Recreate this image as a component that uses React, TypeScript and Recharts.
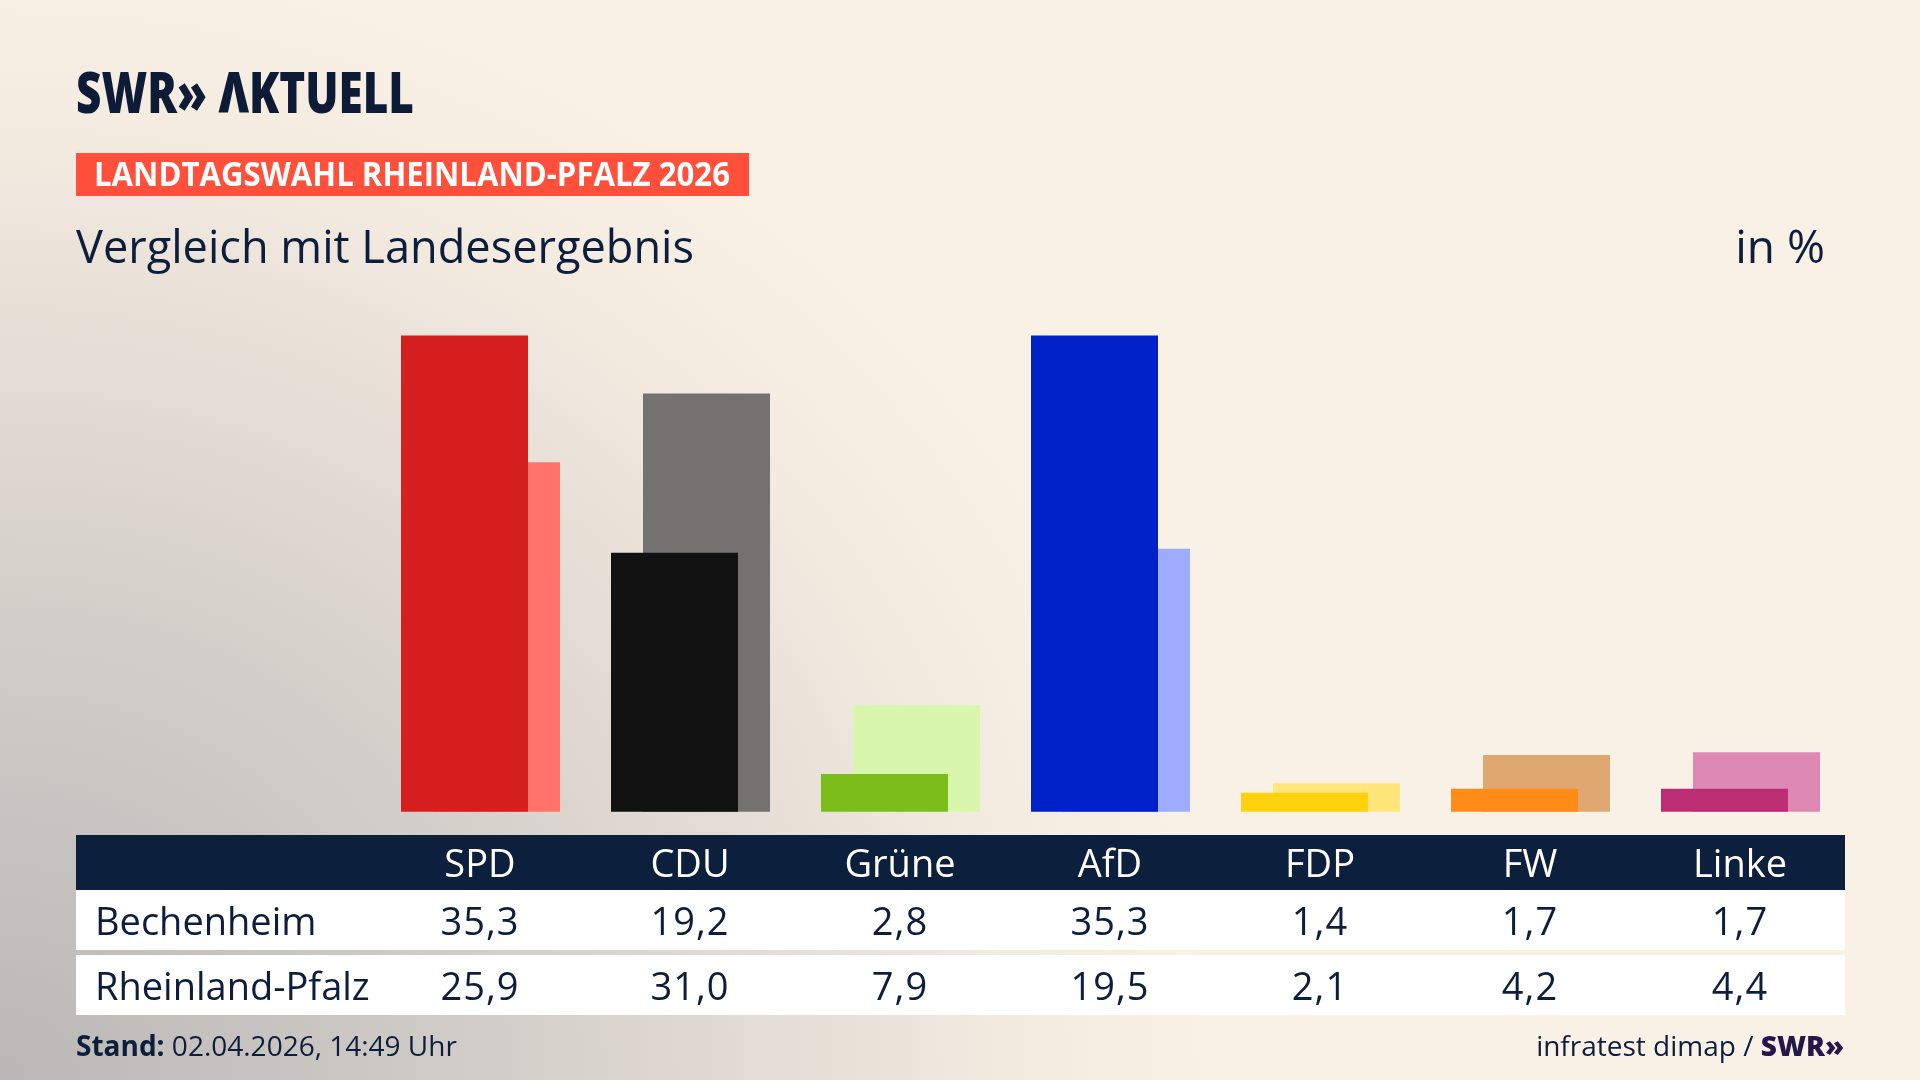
import React from "react";
import { BarChart, Bar, XAxis, YAxis, Cell } from "recharts";

const parties = ["SPD", "CDU", "Grüne", "AfD", "FDP", "FW", "Linke"];
const bechenheim = [35.3, 19.2, 2.8, 35.3, 1.4, 1.7, 1.7];
const rheinlandPfalz = [25.9, 31.0, 7.9, 19.5, 2.1, 4.2, 4.4];
const darkColors = ["#d61f1f", "#121212", "#7bbd1b", "#0021c8", "#ffd10f", "#ff8c17", "#bc2e74"];
const lightColors = ["#ff736b", "#737270", "#d8f7ad", "#9dacff", "#ffe57a", "#dfa871", "#de88b4"];
const rowLabels = ["Bechenheim", "Rheinland-Pfalz"];

const fmt = (v: number) => v.toFixed(1).replace(".", ",");

const data = parties.map((p, i) => ({
  party: p,
  local: bechenheim[i],
  state: rheinlandPfalz[i],
}));

const NAVY = "#0c1f3d";
const FONT = "'Open Sans', 'Noto Sans', sans-serif";

export default function App() {
  return (
    <div
      style={{
        position: "fixed",
        left: 0,
        top: 0,
        width: 1920,
        height: 1080,
        overflow: "hidden",
        fontFamily: FONT,
        background:
          "radial-gradient(ellipse 1350px 1250px at 0% 100%, #bab8b6 0%, #cdc9c5 30%, #e2dbd3 55%, #f3eae0 75%, #faf1e6 90%)",
      }}
    >
      {/* Header */}
      <svg width={1920} height={300} style={{ position: "absolute", left: 0, top: 0 }}>
        <text
          x={76}
          y={113}
          fontFamily={FONT}
          fontWeight={800}
          fontSize={56}
          fill="#0d1b36"
          textLength={338}
          lengthAdjust="spacingAndGlyphs"
        >
          SWR» ΛKTUELL
        </text>
        <rect x={76} y={153} width={673} height={43} fill="#ff503c" />
        <text
          x={94}
          y={186}
          fontFamily={FONT}
          fontWeight={700}
          fontSize={34}
          fill="#ffffff"
          textLength={636}
          lengthAdjust="spacingAndGlyphs"
        >
          LANDTAGSWAHL RHEINLAND-PFALZ 2026
        </text>
        <text
          x={76}
          y={263}
          fontFamily={FONT}
          fontWeight={400}
          fontSize={46}
          fill="#0d1e3c"
          textLength={618}
          lengthAdjust="spacingAndGlyphs"
        >
          Vergleich mit Landesergebnis
        </text>
        <text
          x={1825}
          y={263}
          fontFamily={FONT}
          fontWeight={400}
          fontSize={46}
          fill="#0d1e3c"
          textAnchor="end"
        >
          in %
        </text>
      </svg>

      {/* Bars */}
      <div style={{ position: "absolute", left: 0, top: 0 }}>
        <BarChart
          width={1920}
          height={1080}
          data={data}
          margin={{ top: 335.5, bottom: 268.3, left: 359, right: 59 }}
        >
          <XAxis xAxisId="a" dataKey="party" hide padding={{ left: 0, right: 32 }} />
          <XAxis xAxisId="b" dataKey="party" hide padding={{ left: 32, right: 0 }} />
          <YAxis hide domain={[0, "dataMax"]} />
          <Bar xAxisId="b" dataKey="state" barSize={127} isAnimationActive={false}>
            {data.map((d, i) => (
              <Cell key={d.party} fill={lightColors[i]} />
            ))}
          </Bar>
          <Bar xAxisId="a" dataKey="local" barSize={127} isAnimationActive={false}>
            {data.map((d, i) => (
              <Cell key={d.party} fill={darkColors[i]} />
            ))}
          </Bar>
        </BarChart>
      </div>

      {/* Table */}
      <div style={{ position: "absolute", left: 76, top: 835, width: 1769 }}>
        <div
          style={{
            display: "grid",
            gridTemplateColumns: `299px repeat(${parties.length}, 210px)`,
            height: 55,
            background: NAVY,
            color: "#ffffff",
            fontSize: 38,
            alignItems: "center",
          }}
        >
          <div />
          {parties.map((p) => (
            <div key={p} style={{ textAlign: "center", lineHeight: "55px" }}>
              {p}
            </div>
          ))}
        </div>
        {[bechenheim, rheinlandPfalz].map((row, r) => (
          <div
            key={rowLabels[r]}
            style={{
              display: "grid",
              gridTemplateColumns: `299px repeat(${parties.length}, 210px)`,
              height: 60,
              marginTop: r === 0 ? 0 : 5,
              background: "#ffffff",
              color: "#0d1e3c",
              fontSize: 38,
              alignItems: "center",
            }}
          >
            <div style={{ paddingLeft: 19, lineHeight: "60px", whiteSpace: "nowrap" }}>{rowLabels[r]}</div>
            {row.map((v, i) => (
              <div key={parties[i]} style={{ textAlign: "center", lineHeight: "60px", letterSpacing: 1 }}>
                {fmt(v)}
              </div>
            ))}
          </div>
        ))}
      </div>

      {/* Footer */}
      <div
        style={{
          position: "absolute",
          left: 76,
          top: 1026,
          fontSize: 28,
          color: "#0d1e3c",
          whiteSpace: "nowrap",
        }}
      >
        <span style={{ fontWeight: 700 }}>Stand:</span> 02.04.2026, 14:49 Uhr
      </div>
      <div
        style={{
          position: "absolute",
          right: 1920 - 1844,
          top: 1026,
          fontSize: 28,
          color: "#0d1e3c",
          whiteSpace: "nowrap",
        }}
      >
        infratest dimap / <span style={{ fontWeight: 800, color: "#26174a" }}>SWR»</span>
      </div>
    </div>
  );
}
